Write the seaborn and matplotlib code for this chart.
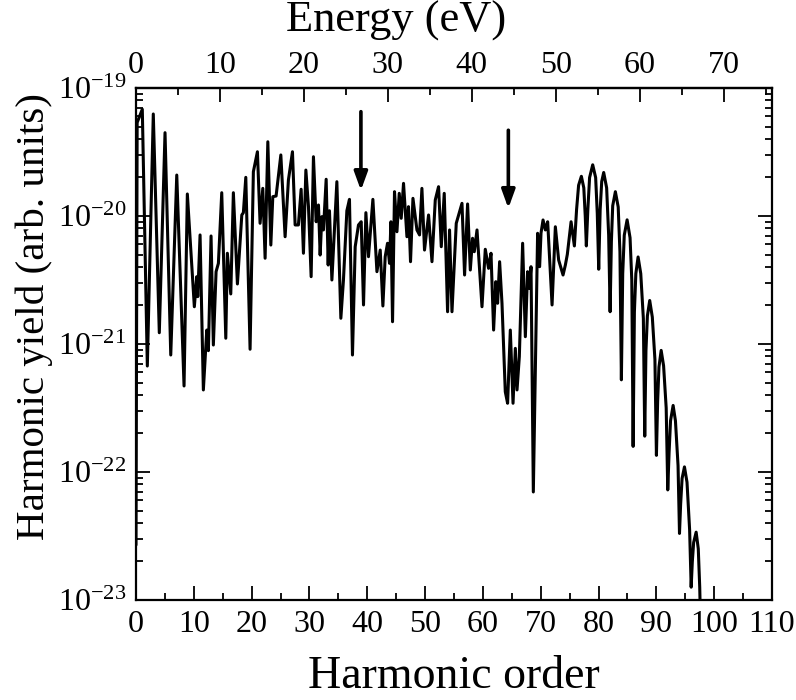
import numpy as np
import pandas as pd
import matplotlib
matplotlib.use("Agg")
import matplotlib.pyplot as plt
import seaborn as sns
from matplotlib.ticker import MultipleLocator, FixedLocator, LogLocator, NullFormatter

# ---------------- data ----------------
harmonic_order = [
    0.0, 0.2, 1.09, 1.96, 2.99, 4.03, 5.02, 6.01, 7.05, 8.31, 8.88, 10.09, 10.51, 10.68,
    11.08, 11.65, 12.24, 12.52, 12.98, 13.38, 13.85, 14.25, 14.83, 15.53, 15.80, 16.39,
    16.84, 17.54, 18.30, 18.57, 18.99, 19.73, 20.30, 21.00, 21.46, 21.93, 22.33, 22.80,
    23.32, 23.66, 24.23, 25.05, 25.79, 26.36, 27.06, 27.52, 28.09, 28.56, 28.96, 29.38,
    29.83, 30.29, 30.69, 31.16, 31.56, 31.85, 32.14, 32.42, 32.89, 33.24, 33.46, 33.88,
    34.74, 35.43, 35.88, 36.47, 36.92, 37.44, 37.91, 38.48, 38.95, 39.35, 39.76, 40.21,
    40.97, 41.67, 42.24, 42.70, 43.10, 43.50, 43.85, 44.09, 44.37, 44.71, 45.13, 45.53,
    45.87, 46.27, 46.86, 47.13, 47.48, 47.90, 48.59, 49.04, 49.45, 49.90, 50.60, 51.19,
    51.76, 52.33, 52.80, 53.31, 53.89, 54.23, 54.65, 55.39, 56.38, 56.83, 57.35, 57.82,
    58.21, 58.51, 58.98, 59.84, 60.41, 60.98, 61.40, 61.85, 62.23, 62.54, 62.89, 63.30,
    63.87, 64.27, 64.74, 65.21, 65.61, 65.90, 66.30, 66.87, 67.34, 67.73, 68.03, 68.32,
    68.72, 69.46, 69.81, 70.05, 70.40, 70.80, 71.20, 71.96, 72.53, 73.10, 73.86, 74.26,
    74.60, 75.25, 75.82,
    76.20, 76.55, 77.03, 77.45, 77.70, 77.89,
    78.15, 78.45, 78.99, 79.50, 79.78, 80.03,
    80.28, 80.55, 80.89, 81.40, 81.75, 82.00,
    82.22, 82.45, 82.91, 83.40, 83.70, 83.95,
    84.18, 84.45, 84.94, 85.45, 85.75, 85.98,
    86.20, 86.45, 86.84, 87.30, 87.75, 87.99,
    88.20, 88.45, 88.85, 89.30, 89.75, 90.01,
    90.22, 90.45, 90.83, 91.25, 91.70, 91.97,
    92.20, 92.45, 92.90, 93.30, 93.75, 94.00,
    94.20, 94.45, 94.86, 95.30, 95.75, 96.02,
    96.22, 96.45, 96.88, 97.25, 97.50, 97.70,
]

log10_yield = [
    -22.57, -19.27, -19.166, -21.172, -19.203, -20.912, -19.349, -21.086, -19.680, -21.328,
    -19.828, -20.709, -20.474, -20.630, -20.148, -21.359, -20.891, -21.052, -20.156, -21.008,
    -20.435, -20.370, -19.818, -20.955, -20.291, -20.609, -19.818, -20.531, -19.992, -19.974,
    -19.698, -21.041, -19.654, -19.498, -20.057, -19.784, -20.330, -19.420, -20.227, -19.849,
    -19.844, -19.523, -20.162, -19.719, -19.498, -20.070, -20.070, -19.791, -20.291, -19.641,
    -19.927, -20.474, -19.537, -20.045, -19.914, -20.305, -20.005, -20.109, -19.713, -20.383,
    -19.959, -20.500, -19.732, -20.799, -20.500, -19.959, -19.870, -21.086, -20.240, -20.070,
    -20.045, -20.695, -19.974, -20.318, -19.870, -20.435, -20.266, -20.703, -20.318, -20.213,
    -20.370, -20.045, -20.826, -19.810, -20.123, -19.823, -20.018, -19.745, -20.162, -19.927,
    -20.357, -19.862, -20.109, -20.148, -19.784, -20.266, -19.992, -20.357, -19.875, -19.771,
    -20.240, -19.823, -20.748, -20.109, -20.748, -20.057, -19.901, -20.461, -19.906, -20.422,
    -20.174, -20.279, -20.109, -20.709, -20.260, -20.409, -20.291, -20.891, -20.513, -20.682,
    -20.357, -20.682, -21.373, -21.463, -20.891, -21.463, -21.034, -21.359, -21.099, -20.213,
    -20.943, -20.435, -20.565, -20.396, -22.156, -20.135, -20.396, -20.133, -20.031, -20.109,
    -20.045, -20.695, -20.084, -20.344, -20.461, -20.383,
    -20.30, -20.045, -20.234,
    -19.95, -19.76, -19.69, -19.78, -20.00, -20.234,
    -19.95, -19.70, -19.60, -19.70, -19.98, -20.416,
    -19.95, -19.73, -19.66, -19.78, -20.15, -20.748,
    -20.20, -19.92, -19.81, -19.93, -20.28, -21.28,
    -20.45, -20.15, -20.03, -20.17, -20.50, -21.80,
    -20.75, -20.45, -20.32, -20.45, -20.80, -21.72,
    -21.05, -20.78, -20.66, -20.79, -21.12, -21.87,
    -21.45, -21.18, -21.05, -21.17, -21.50, -22.14,
    -21.85, -21.60, -21.48, -21.60, -21.95, -22.48,
    -22.25, -22.05, -21.96, -22.08, -22.45, -22.90,
    -22.70, -22.55, -22.47, -22.60, -22.90, -23.30,
]

# arrows marking spectral features (harmonic order, start exponent, tip exponent)
arrow_orders = [38.9, 64.4]
arrow_start_log = [-19.185, -19.33]
arrow_tip_log = [-19.80, -19.94]

x_ticks = list(range(0, 111, 10))
y_ticks = [1e-23, 1e-22, 1e-21, 1e-20, 1e-19]
energy_ticks = list(range(0, 71, 10))
PHOTON_EV = 0.6888  # eV per harmonic order (1800 nm driver)

df = pd.DataFrame({"order": harmonic_order, "yield": 10.0 ** np.array(log10_yield)})

# ---------------- style ----------------
sns.set_style("ticks")
plt.rcParams["font.family"] = ["Liberation Serif", "DejaVu Serif"]
plt.rcParams["mathtext.fontset"] = "custom"
plt.rcParams["mathtext.rm"] = "Liberation Serif"
plt.rcParams["mathtext.it"] = "Liberation Serif:italic"
plt.rcParams["mathtext.bf"] = "Liberation Serif:bold"
plt.rcParams["axes.unicode_minus"] = False
for key in ["text.color", "axes.labelcolor", "xtick.color", "ytick.color", "axes.edgecolor"]:
    plt.rcParams[key] = "black"

W, H = 796, 700
L, R, T, B = 136, 772, 88, 600
fig = plt.figure(figsize=(W / 100, H / 100), dpi=100)
ax = fig.add_axes([L / W, 1 - B / H, (R - L) / W, (B - T) / H])

sns.lineplot(data=df, x="order", y="yield", color="black", lw=2.2, ax=ax,
             sort=False, estimator=None)
ax.set_yscale("log")
ax.set_xlim(0, 110)
ax.set_ylim(1e-23, 1e-19)

ax.xaxis.set_major_locator(FixedLocator(x_ticks))
ax.xaxis.set_minor_locator(MultipleLocator(5))
ax.yaxis.set_major_locator(FixedLocator(y_ticks))
ax.yaxis.set_minor_locator(LogLocator(base=10, subs=np.arange(2, 10), numticks=20))
ax.yaxis.set_minor_formatter(NullFormatter())
ax.set_yticklabels([r"10$^{%d}$" % int(np.log10(v)) for v in y_ticks])

for s in ax.spines.values():
    s.set_linewidth(1.6)
    s.set_color("black")

ax.tick_params(which="both", direction="in", top=False, right=True, width=1.3,
               colors="black", labelsize=23)
ax.tick_params(which="major", length=10, pad=7)
ax.tick_params(which="minor", length=5)

ax.set_xlabel("Harmonic order", fontsize=33, color="black")
ax.xaxis.label.set_va("baseline")
ax.xaxis.set_label_coords(0.5, (B - 688) / (B - T))

ax.set_ylabel("Harmonic yield (arb. units)", fontsize=29.5, color="black")
ax.yaxis.label.set_va("baseline")
ax.yaxis.set_label_coords((44 - L) / (R - L), (B - 317) / (B - T))

sec = ax.secondary_xaxis("top", functions=(lambda h: h * PHOTON_EV, lambda e: e / PHOTON_EV))
sec.xaxis.set_major_locator(FixedLocator(energy_ticks))
sec.xaxis.set_minor_locator(MultipleLocator(5))
sec.tick_params(which="both", direction="in", width=1.3, labelsize=23, colors="black")
sec.tick_params(which="major", length=10, pad=6)
sec.tick_params(which="minor", length=5)
sec.spines["top"].set_linewidth(1.6)
sec.set_xlabel("Energy (eV)", fontsize=32, color="black")
sec.xaxis.label.set_va("baseline")
sec.xaxis.set_label_coords((396 - L) / (R - L), (B - 32) / (B - T), transform=ax.transAxes)

for xo, ys, yt in zip(arrow_orders, arrow_start_log, arrow_tip_log):
    ax.annotate("", xy=(xo, 10.0 ** yt), xytext=(xo, 10.0 ** ys),
                arrowprops=dict(arrowstyle="-|>,head_length=0.55,head_width=0.2",
                                lw=2.6, color="black", mutation_scale=20,
                                shrinkA=0, shrinkB=0))

fig.savefig("out.png", dpi=100)
